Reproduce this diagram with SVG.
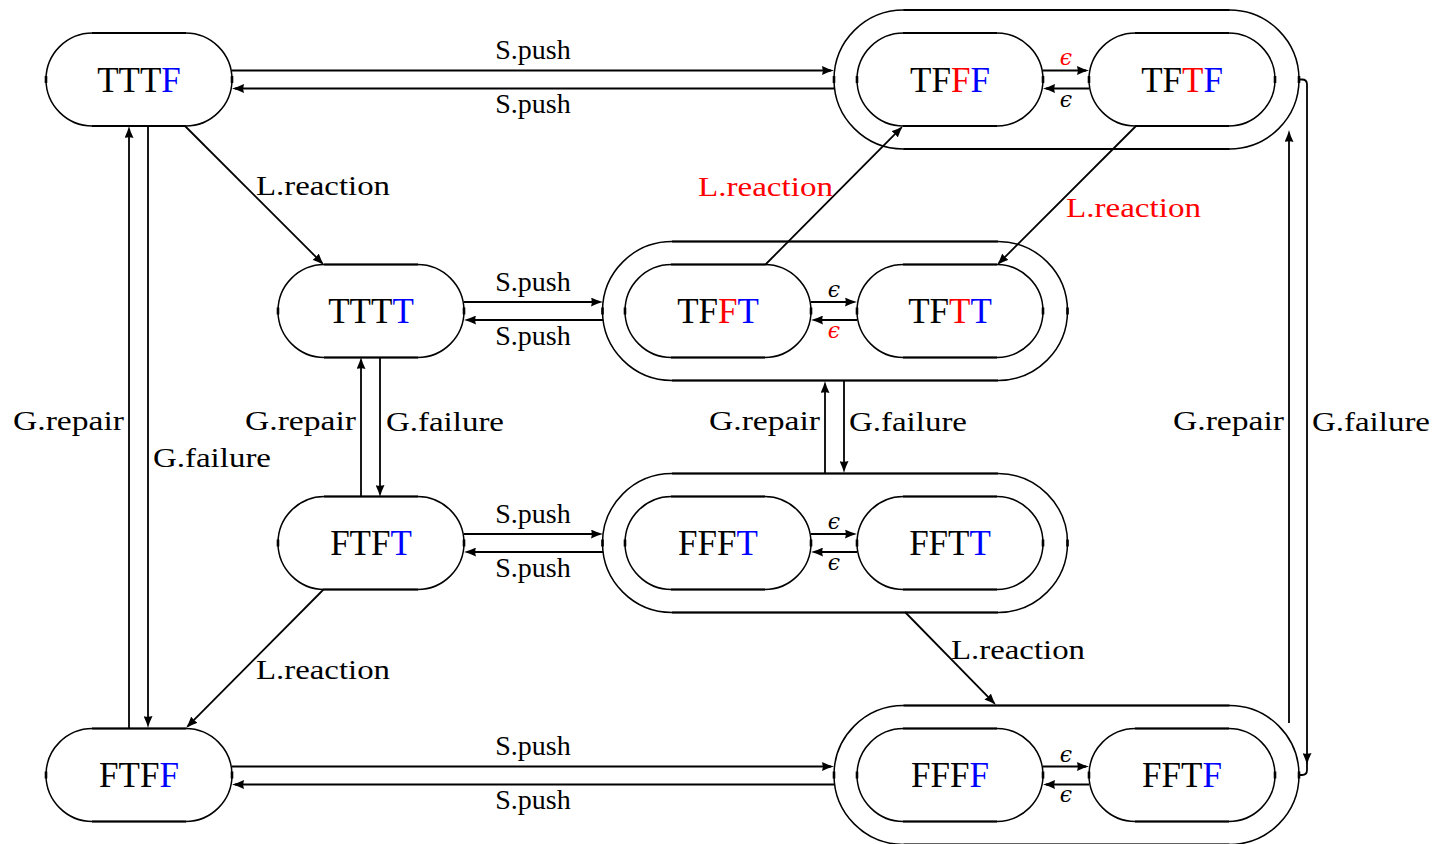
<svg xmlns="http://www.w3.org/2000/svg" xmlns:xlink="http://www.w3.org/1999/xlink" width="1435" height="844" viewBox="0 0 1435 844">
  <style>
    .shape { fill: none; stroke: #000; stroke-width: 1.5; }
    .flat { fill: none; stroke: #000; stroke-width: 2.2; }
    .tick { fill: none; stroke: #000; stroke-width: 2.6; }
    .edge { fill: none; stroke: #000; stroke-width: 1.8; marker-end: url(#tip); }
    .line { fill: none; stroke: #000; stroke-width: 1.8; }
    text { font-family: 'Liberation Serif', 'Times New Roman', 'DejaVu Serif', serif; }
    .st { font-size: 35px; text-anchor: middle; fill: #000; }
    .lb { font-size: 28px; fill: #000; }
    .mid { text-anchor: middle; }
    .end { text-anchor: end; }
    .eps { font-family: 'DejaVu Serif', serif; font-style: italic; font-size: 22px; text-anchor: middle; fill: #000; }
    .r { fill: #f00; }
    .b { fill: #00f; }
  </style>
  <defs>
    <marker id="tip" viewBox="0 0 12 9" refX="9" refY="4.5" markerWidth="12" markerHeight="9" markerUnits="userSpaceOnUse" orient="auto">
      <path d="M12,4.5 Q6.5,5.8 0,9 Q1.6,4.5 0,0 Q6.5,3.2 12,4.5 Z" fill="#000"/>
    </marker>
    <!-- single state: rounded pill 186 x 93 -->
    <g id="pill">
      <rect class="shape" x="-93" y="-46.5" width="186" height="93" rx="46.5" ry="46.5"/>
      <path class="flat" d="M-47,-46.5 H47 M-47,46.5 H47"/>
      <path class="tick" d="M-93,-3.5 V3.5 M93,-3.5 V3.5"/>
    </g>
    <!-- grouping of two states: pill 465 x 139 -->
    <g id="group">
      <rect class="shape" x="-232.5" y="-69.5" width="465" height="139" rx="69.5" ry="69.5"/>
      <path class="flat" d="M-163,-69.5 H163 M-163,69.5 H163"/>
      <path class="tick" d="M-232.5,-3.5 V3.5 M232.5,-3.5 V3.5"/>
    </g>
  </defs>

  <!-- groupings -->
  <g id="grp-top"><use xlink:href="#group" x="1066.5" y="79.5"/></g>
  <g id="grp-mid"><use xlink:href="#group" x="835" y="311"/></g>
  <g id="grp-low"><use xlink:href="#group" x="835" y="543"/></g>
  <g id="grp-bot"><use xlink:href="#group" x="1066.5" y="775"/></g>

  <!-- states -->
  <g font-family="Liberation Serif, Times New Roman, serif">
  <g id="TTTF"><use xlink:href="#pill" x="139" y="79.5"/><text class="st" x="139" y="91.5">TTT<tspan class="b">F</tspan></text></g>
  <g id="TFFF"><use xlink:href="#pill" x="950" y="79.5"/><text class="st" x="950" y="91.5">TF<tspan class="r">F</tspan><tspan class="b">F</tspan></text></g>
  <g id="TFTF"><use xlink:href="#pill" x="1182" y="79.5"/><text class="st" x="1182" y="91.5">TF<tspan class="r">T</tspan><tspan class="b">F</tspan></text></g>

  <g id="TTTT"><use xlink:href="#pill" x="371" y="311"/><text class="st" x="371" y="323">TTT<tspan class="b">T</tspan></text></g>
  <g id="TFFT"><use xlink:href="#pill" x="718" y="311"/><text class="st" x="718" y="323">TF<tspan class="r">F</tspan><tspan class="b">T</tspan></text></g>
  <g id="TFTT"><use xlink:href="#pill" x="950" y="311"/><text class="st" x="950" y="323">TF<tspan class="r">T</tspan><tspan class="b">T</tspan></text></g>

  <g id="FTFT"><use xlink:href="#pill" x="371" y="543"/><text class="st" x="371" y="555">FTF<tspan class="b">T</tspan></text></g>
  <g id="FFFT"><use xlink:href="#pill" x="718" y="543"/><text class="st" x="718" y="555">FFF<tspan class="b">T</tspan></text></g>
  <g id="FFTT"><use xlink:href="#pill" x="950" y="543"/><text class="st" x="950" y="555">FFT<tspan class="b">T</tspan></text></g>

  <g id="FTFF"><use xlink:href="#pill" x="139" y="775"/><text class="st" x="139" y="787">FTF<tspan class="b">F</tspan></text></g>
  <g id="FFFF"><use xlink:href="#pill" x="950" y="775"/><text class="st" x="950" y="787">FFF<tspan class="b">F</tspan></text></g>
  <g id="FFTF"><use xlink:href="#pill" x="1182" y="775"/><text class="st" x="1182" y="787">FFT<tspan class="b">F</tspan></text></g>
  </g>

  <!-- connectors -->
  <g id="connectors">
    <!-- S.push pairs -->
    <path class="edge" d="M232,70.5 H831"/>
    <path class="edge" d="M834,88.5 H235"/>
    <path class="edge" d="M464,302 H600"/>
    <path class="edge" d="M603,320 H467"/>
    <path class="edge" d="M464,534 H600"/>
    <path class="edge" d="M603,552 H467"/>
    <path class="edge" d="M232,766.5 H831"/>
    <path class="edge" d="M834,784.5 H235"/>

    <!-- epsilon pairs inside groupings -->
    <path class="edge" d="M1043,70.5 H1086"/>
    <path class="edge" d="M1089,88.5 H1046"/>
    <path class="edge" d="M811,302 H854"/>
    <path class="edge" d="M857,320 H814"/>
    <path class="edge" d="M811,534 H854"/>
    <path class="edge" d="M857,552 H814"/>
    <path class="edge" d="M1043,766.5 H1086"/>
    <path class="edge" d="M1089,784.5 H1046"/>

    <!-- G.repair / G.failure -->
    <path class="edge" d="M129,728 V129"/>
    <path class="edge" d="M148,126 V725"/>
    <path class="edge" d="M361,497 V360"/>
    <path class="edge" d="M380,357 V494"/>
    <path class="edge" d="M825,473 V384"/>
    <path class="edge" d="M844,381 V470"/>
    <path class="edge" d="M1289,723 V133"/>
    <path class="edge" d="M1299,79.5 H1302 Q1307,79.5 1307,84.5 V762"/>
    <path class="line" d="M1307,761 V770 Q1307,775 1302,775 H1299"/>

    <!-- L.reaction -->
    <path class="edge" d="M185,126 L321.9,262.9"/>
    <path class="edge" d="M324,589 L188.1,725.9"/>
    <path class="edge" d="M765,265 L900.9,128.1"/>
    <path class="edge" d="M1136,126 L999.1,262.9"/>
    <path class="edge" d="M905,612 L993.9,702.9"/>
  </g>

  <!-- connector labels -->
  <g id="labels" font-family="Liberation Serif, Times New Roman, serif">
    <text class="lb mid" x="533" y="59">S.push</text>
    <text class="lb mid" x="533" y="113">S.push</text>
    <text class="lb mid" x="533" y="290.5">S.push</text>
    <text class="lb mid" x="533" y="344.5">S.push</text>
    <text class="lb mid" x="533" y="522.5">S.push</text>
    <text class="lb mid" x="533" y="576.5">S.push</text>
    <text class="lb mid" x="533" y="754.5">S.push</text>
    <text class="lb mid" x="533" y="808.5">S.push</text>

    <text class="eps r" x="1066" y="65">ϵ</text>
    <text class="eps" x="1066" y="107">ϵ</text>
    <text class="eps" x="834" y="297">ϵ</text>
    <text class="eps r" x="834" y="338">ϵ</text>
    <text class="eps" x="834" y="529">ϵ</text>
    <text class="eps" x="834" y="570">ϵ</text>
    <text class="eps" x="1066" y="762">ϵ</text>
    <text class="eps" x="1066" y="802">ϵ</text>

    <text class="lb end" x="124" y="430" textLength="111" lengthAdjust="spacingAndGlyphs">G.repair</text>
    <text class="lb" x="153" y="467" textLength="118" lengthAdjust="spacingAndGlyphs">G.failure</text>
    <text class="lb end" x="356" y="430" textLength="111" lengthAdjust="spacingAndGlyphs">G.repair</text>
    <text class="lb" x="386" y="431" textLength="118" lengthAdjust="spacingAndGlyphs">G.failure</text>
    <text class="lb end" x="820" y="430" textLength="111" lengthAdjust="spacingAndGlyphs">G.repair</text>
    <text class="lb" x="849" y="431" textLength="118" lengthAdjust="spacingAndGlyphs">G.failure</text>
    <text class="lb end" x="1284" y="430" textLength="111" lengthAdjust="spacingAndGlyphs">G.repair</text>
    <text class="lb" x="1312" y="431" textLength="118" lengthAdjust="spacingAndGlyphs">G.failure</text>

    <text class="lb" x="256" y="195" textLength="134" lengthAdjust="spacingAndGlyphs">L.reaction</text>
    <text class="lb r" x="698" y="196" textLength="135" lengthAdjust="spacingAndGlyphs">L.reaction</text>
    <text class="lb r" x="1066" y="217" textLength="135" lengthAdjust="spacingAndGlyphs">L.reaction</text>
    <text class="lb" x="256" y="679" textLength="134" lengthAdjust="spacingAndGlyphs">L.reaction</text>
    <text class="lb" x="951" y="659" textLength="134" lengthAdjust="spacingAndGlyphs">L.reaction</text>
  </g>
</svg>
